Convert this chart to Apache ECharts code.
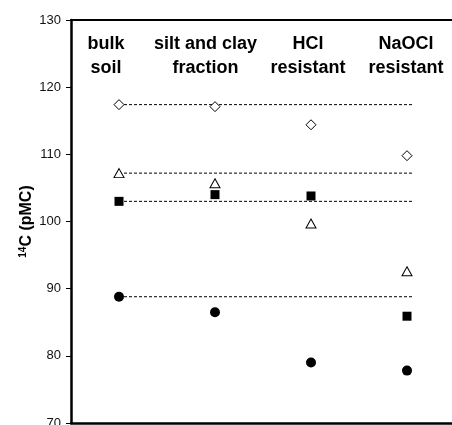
<!DOCTYPE html>
<html>
<head>
<meta charset="utf-8">
<script src="https://cdn.jsdelivr.net/npm/echarts@6/dist/echarts.min.js"></script>
<style>
  html, body { margin: 0; padding: 0; background: #fff; }
  #chart { width: 452px; height: 425px; }
</style>
</head>
<body>
<div id="chart"></div>
<script>
// fractions along the x axis
var categories = ['bulk\nsoil', 'silt and clay\nfraction', 'HCl\nresistant', 'NaOCl\nresistant'];
var yTicks = [70, 80, 90, 100, 110, 120, 130];

// 14C values (pMC) per symbol series
var diamondVals  = [117.4, 117.1, 114.4, 109.8];
var triangleVals = [107.2, 105.7, 99.7, 92.6];
var squareVals   = [103.0, 104.0, 103.8, 85.9];
var circleVals   = [88.8, 86.5, 79.0, 77.8];

var chart = echarts.init(document.getElementById('chart'));

function pts(vals) {
  return vals.map(function (v, i) { return [i, v]; });
}
// dashed reference line at the bulk soil value
function refLine(vals) {
  return {
    type: 'line', xAxisIndex: 0, yAxisIndex: 0, z: 1,
    symbol: 'none', silent: true,
    lineStyle: { color: '#000', width: 1, type: [3, 2], opacity: 1 },
    data: [[0, vals[0]], [3.07, vals[0]]]
  };
}
function marks(vals, symbol, size, filled) {
  return {
    type: 'scatter', z: 3,
    symbol: symbol, symbolSize: size,
    itemStyle: filled
      ? { color: '#000', opacity: 1 }
      : { color: '#fff', borderColor: '#000', borderWidth: 1, opacity: 1 },
    data: pts(vals)
  };
}

var labelShift = { a: 26, b: 19, c: 6, d: 2 };
var keys = ['a', 'b', 'c', 'd'];
var rich = {};
keys.forEach(function (k) {
  rich[k] = { fontSize: 18, fontWeight: 'bold', color: '#000', lineHeight: 24,
    fontFamily: 'Liberation Sans, Arial, sans-serif', align: 'center', padding: [0, labelShift[k], 0, 0] };
});

var option = {
  animation: false,
  textStyle: { fontFamily: 'Liberation Sans, Arial, sans-serif' },
  grid: { left: 71, top: 20, width: 384, bottom: 2, outerBoundsMode: 'none', containLabel: false },
  xAxis: [
    {
      type: 'value', min: -0.5, max: 3.5, position: 'bottom',
      axisLine: { show: true, onZero: false, lineStyle: { color: '#000', width: 2.5 } },
      axisTick: { show: false }, axisLabel: { show: false }, splitLine: { show: false }
    },
    {
      type: 'category', position: 'top', data: categories, boundaryGap: true,
      axisLine: { show: true, onZero: false, lineStyle: { color: '#000', width: 2 } },
      axisTick: { show: false }, splitLine: { show: false },
      axisLabel: {
        inside: true, margin: 12, interval: 0,
        formatter: function (val, idx) {
          return val.split('\n').map(function (s) { return '{' + keys[idx] + '|' + s + '}'; }).join('\n');
        },
        rich: rich
      }
    }
  ],
  yAxis: {
    type: 'value', min: yTicks[0], max: yTicks[yTicks.length - 1], interval: 10,
    name: '{sup|14}{main|C (pMC)}', nameLocation: 'middle', nameGap: 36, nameMoveOverlap: false,
    nameTextStyle: {
      rich: {
        sup: { fontSize: 10, fontWeight: 'bold', color: '#000', padding: [0, 0, 7, 0] },
        main: { fontSize: 16, fontWeight: 'bold', color: '#000' }
      }
    },
    axisLine: { show: true, onZero: false, lineStyle: { color: '#000', width: 2.5 } },
    axisTick: { show: true, length: 5, inside: false, lineStyle: { color: '#000', width: 1 } },
    axisLabel: { fontSize: 13, color: '#111', margin: 10 },
    splitLine: { show: false }
  },
  series: [
    refLine(diamondVals),
    refLine(triangleVals),
    refLine(squareVals),
    refLine(circleVals),
    marks(diamondVals, 'diamond', 10, false),
    marks(triangleVals, 'triangle', [10, 9], false),
    marks(squareVals, 'rect', 9, true),
    marks(circleVals, 'circle', 10, true)
  ]
};

chart.setOption(option);
window.addEventListener('resize', function () { chart.resize(); });
</script>
</body>
</html>
